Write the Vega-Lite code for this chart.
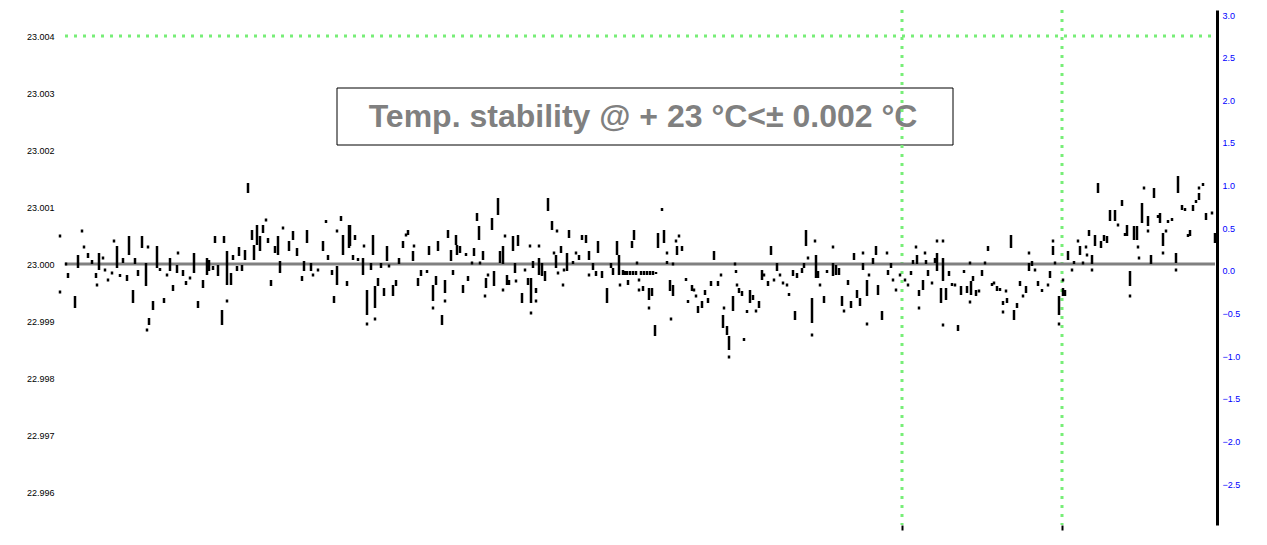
{
  "$schema": "https://vega.github.io/schema/vega-lite/v6.json",
  "autosize": {"type": "none"},
  "padding": {"left": 58, "top": 10, "right": 50, "bottom": 20},
  "width": 1159,
  "height": 515,
  "background": "white",
  "config": {"view": {"stroke": null}, "font": "Liberation Sans"},
  "datasets": {
    "pts": [
      {"t":60,"hi":29.5,"lo":26.5},{"t":60,"hi":-26.5,"lo":-29.5},{"t":66,"hi":1.5,"lo":-1.5},{"t":68,"hi":-9,"lo":-14},{"t":75,"hi":-32,"lo":-44},{"t":78,"hi":9,"lo":-4},{"t":82,"hi":34.5,"lo":31.5},{"t":84,"hi":18.5,"lo":15.5},{"t":88,"hi":11,"lo":6},{"t":92,"hi":4,"lo":0},{"t":96,"hi":-9,"lo":-14},{"t":97,"hi":-19.5,"lo":-22.5},{"t":99,"hi":11,"lo":-6},{"t":103,"hi":7.5,"lo":4.5},{"t":105,"hi":-4.5,"lo":-7.5},{"t":108,"hi":-14.5,"lo":-17.5},{"t":112,"hi":-7.5,"lo":-10.5},{"t":114,"hi":24.5,"lo":21.5},{"t":117,"hi":18,"lo":-4},{"t":120,"hi":-10,"lo":-13},{"t":123,"hi":6,"lo":1},{"t":127,"hi":-11,"lo":-17},{"t":129,"hi":28,"lo":9},{"t":133,"hi":-26,"lo":-39},{"t":135,"hi":6,"lo":0},{"t":138,"hi":-6,"lo":-12},{"t":142,"hi":28,"lo":16},{"t":146,"hi":1,"lo":-22},{"t":148,"hi":18.5,"lo":15.5},{"t":149,"hi":-54,"lo":-61},{"t":147,"hi":-64.5,"lo":-67.5},{"t":153,"hi":-37,"lo":-46},{"t":157,"hi":18,"lo":-4},{"t":160,"hi":-4,"lo":-7},{"t":164,"hi":-34,"lo":-39},{"t":167,"hi":-9.5,"lo":-12.5},{"t":170,"hi":6,"lo":-7},{"t":173,"hi":-21,"lo":-27},{"t":177,"hi":-1,"lo":-9},{"t":178,"hi":12.5,"lo":9.5},{"t":183,"hi":-6,"lo":-12},{"t":186,"hi":-17,"lo":-21},{"t":190,"hi":-12.5,"lo":-15.5},{"t":194,"hi":11,"lo":-9},{"t":198,"hi":-37,"lo":-44},{"t":203,"hi":-16,"lo":-24},{"t":207,"hi":6,"lo":-11},{"t":209,"hi":4,"lo":-7},{"t":213,"hi":-2,"lo":-6},{"t":215,"hi":28,"lo":21},{"t":218,"hi":-1,"lo":-12},{"t":222,"hi":-46,"lo":-61},{"t":224,"hi":28,"lo":21},{"t":227,"hi":13,"lo":-21},{"t":227,"hi":-35.5,"lo":-38.5},{"t":231,"hi":-9,"lo":-21},{"t":233,"hi":9,"lo":4},{"t":237,"hi":-2,"lo":-7},{"t":239,"hi":17,"lo":8},{"t":242,"hi":-1,"lo":-7},{"t":245,"hi":14,"lo":4},{"t":248,"hi":81,"lo":71},{"t":252,"hi":34,"lo":24},{"t":254,"hi":19,"lo":4},{"t":257,"hi":39,"lo":19},{"t":260,"hi":28,"lo":13},{"t":263,"hi":39,"lo":31},{"t":266,"hi":45.5,"lo":42.5},{"t":268,"hi":26,"lo":21},{"t":271,"hi":-16,"lo":-22},{"t":275,"hi":18,"lo":11},{"t":278,"hi":28,"lo":9},{"t":280,"hi":3,"lo":-9},{"t":283,"hi":37.5,"lo":34.5},{"t":289,"hi":23,"lo":13},{"t":293,"hi":33,"lo":24},{"t":297,"hi":16,"lo":8},{"t":302,"hi":-12,"lo":-17},{"t":304,"hi":3,"lo":-7},{"t":307,"hi":34,"lo":21},{"t":311,"hi":1,"lo":-7},{"t":313,"hi":-9.5,"lo":-12.5},{"t":318,"hi":-4.5,"lo":-7.5},{"t":323,"hi":23,"lo":13},{"t":326,"hi":44,"lo":41},{"t":328,"hi":9,"lo":4},{"t":332,"hi":-6,"lo":-11},{"t":334,"hi":-32,"lo":-39},{"t":337,"hi":34.5,"lo":31.5},{"t":337,"hi":-2,"lo":-21},{"t":341,"hi":48,"lo":43},{"t":343,"hi":29,"lo":9},{"t":347,"hi":-17,"lo":-22},{"t":349,"hi":39,"lo":16},
      {"t":350,"hi":39,"lo":18},{"t":353,"hi":9,"lo":4},{"t":355,"hi":29,"lo":24},{"t":358,"hi":6,"lo":3},{"t":363,"hi":6,"lo":-11},{"t":364,"hi":19.5,"lo":16.5},{"t":367,"hi":-26,"lo":-51},{"t":367,"hi":-58.5,"lo":-61.5},{"t":371,"hi":1,"lo":-6},{"t":373,"hi":29,"lo":9},{"t":375,"hi":-22,"lo":-44},{"t":375,"hi":-53.5,"lo":-56.5},{"t":378,"hi":-14,"lo":-22},{"t":381,"hi":1,"lo":-4},{"t":384,"hi":-24,"lo":-32},{"t":387,"hi":18,"lo":3},{"t":389,"hi":-0.5,"lo":-3.5},{"t":393,"hi":-21,"lo":-32},{"t":396,"hi":-16,"lo":-22},{"t":399,"hi":6,"lo":0},{"t":403,"hi":23,"lo":16},{"t":406,"hi":30.5,"lo":27.5},{"t":408,"hi":34,"lo":29},{"t":413,"hi":13,"lo":3},{"t":414,"hi":19.5,"lo":16.5},{"t":418,"hi":-14,"lo":-22},{"t":421,"hi":-6,"lo":-12},{"t":427,"hi":-6,"lo":-9},{"t":429,"hi":18,"lo":9},{"t":433,"hi":-21,"lo":-37},{"t":433,"hi":-42.5,"lo":-45.5},{"t":436,"hi":-12,"lo":-21},{"t":438,"hi":23,"lo":13},{"t":442,"hi":-51,"lo":-61},{"t":445,"hi":-16,"lo":-29},{"t":445,"hi":-35.5,"lo":-38.5},{"t":448,"hi":34,"lo":26},{"t":451,"hi":14,"lo":3},{"t":453,"hi":-6,"lo":-11},{"t":456,"hi":29,"lo":19},{"t":457,"hi":19,"lo":9},{"t":460,"hi":18,"lo":11},{"t":463,"hi":-21,"lo":-29},{"t":466,"hi":11,"lo":8},{"t":468,"hi":-12,"lo":-17},{"t":472,"hi":2.5,"lo":-0.5},{"t":474,"hi":16,"lo":8},{"t":477,"hi":51,"lo":43},{"t":479,"hi":38,"lo":24},{"t":480,"hi":2.5,"lo":-0.5},{"t":483,"hi":13,"lo":4},{"t":486,"hi":-14,"lo":-24},{"t":485,"hi":-30.5,"lo":-33.5},{"t":488,"hi":-9.5,"lo":-12.5},{"t":492,"hi":46,"lo":34},{"t":494,"hi":-7,"lo":-22},{"t":498,"hi":66,"lo":49},{"t":500,"hi":13,"lo":1},{"t":503,"hi":18,"lo":0},{"t":503,"hi":-24.5,"lo":-27.5},{"t":505,"hi":29.5,"lo":26.5},{"t":507,"hi":-11,"lo":-21},{"t":509,"hi":-16,"lo":-21},{"t":513,"hi":28,"lo":13},{"t":515,"hi":1,"lo":-9},{"t":516,"hi":-15.5,"lo":-18.5},{"t":518,"hi":29,"lo":18},{"t":522,"hi":-29,"lo":-39},{"t":525,"hi":-4.5,"lo":-7.5},{"t":528,"hi":-14,"lo":-21},{"t":530,"hi":19.5,"lo":16.5},{"t":531,"hi":-14,"lo":-39},{"t":531,"hi":-47.5,"lo":-50.5},{"t":533,"hi":3,"lo":-4},{"t":536,"hi":-24,"lo":-29},{"t":536,"hi":-35.5,"lo":-38.5},{"t":539,"hi":6,"lo":-11},{"t":539,"hi":19.5,"lo":16.5},{"t":542,"hi":1,"lo":-12},{"t":545,"hi":-7,"lo":-17},{"t":548,"hi":66,"lo":53},{"t":552,"hi":43,"lo":34},{"t":554,"hi":12.5,"lo":9.5},{"t":556,"hi":9,"lo":-4},{"t":557,"hi":34.5,"lo":31.5},{"t":558,"hi":-7.5,"lo":-10.5},{"t":561,"hi":18,"lo":11},{"t":563,"hi":-19.5,"lo":-22.5},{"t":564,"hi":-4.5,"lo":-7.5},{"t":567,"hi":11,"lo":-7},{"t":569,"hi":34,"lo":26},{"t":573,"hi":3,"lo":0},{"t":576,"hi":12.5,"lo":9.5},{"t":579,"hi":9,"lo":4},{"t":582,"hi":29,"lo":24},{"t":586,"hi":29,"lo":21},{"t":589,"hi":13,"lo":4},{"t":589,"hi":-9.5,"lo":-12.5},{"t":593,"hi":1,"lo":-6},{"t":596,"hi":-7,"lo":-12},{"t":598,"hi":23,"lo":11},{"t":602,"hi":-7,"lo":-14},{"t":607,"hi":-24,"lo":-39},{"t":611,"hi":1,"lo":-4},{"t":613,"hi":-4,"lo":-11},{"t":617,"hi":23,"lo":9},{"t":619,"hi":9,"lo":-11},{"t":620,"hi":-19.5,"lo":-22.5},{"t":623,"hi":-6,"lo":-11},{"t":628,"hi":-16,"lo":-21},{"t":632,"hi":23,"lo":16},{"t":634,"hi":34,"lo":24},{"t":637,"hi":2.5,"lo":-0.5},{"t":639,"hi":-14.5,"lo":-17.5},{"t":639,"hi":-24.5,"lo":-27.5},
      {"t":625,"hi":-7,"lo":-11},{"t":627,"hi":-7,"lo":-11},{"t":630,"hi":-7,"lo":-11},{"t":633,"hi":-7,"lo":-11},{"t":636,"hi":-7,"lo":-11},{"t":641,"hi":-7,"lo":-11},{"t":644,"hi":-7,"lo":-11},{"t":647,"hi":-7,"lo":-11},{"t":650,"hi":-7,"lo":-11},{"t":653,"hi":-7,"lo":-11},{"t":656,"hi":-8,"lo":-10},
      {"t":643,"hi":-22,"lo":-27},{"t":649,"hi":-24,"lo":-36},{"t":652,"hi":-24,"lo":-32},{"t":649,"hi":-42.5,"lo":-45.5},{"t":655,"hi":-61,"lo":-72},{"t":658,"hi":31,"lo":16},{"t":662,"hi":56,"lo":53},{"t":664,"hi":34,"lo":21},{"t":667,"hi":12.5,"lo":9.5},{"t":667,"hi":3,"lo":0},{"t":670,"hi":-16,"lo":-27},{"t":671,"hi":-53.5,"lo":-56.5},{"t":673,"hi":-21,"lo":-32},{"t":673,"hi":1.5,"lo":-1.5},{"t":676,"hi":24.5,"lo":21.5},{"t":677,"hi":18,"lo":9},{"t":679,"hi":29.5,"lo":26.5},{"t":682,"hi":18,"lo":13},{"t":686,"hi":-14,"lo":-17},{"t":688,"hi":-36,"lo":-39},{"t":692,"hi":-21,"lo":-27},{"t":694,"hi":-24.5,"lo":-27.5},{"t":696,"hi":-30.5,"lo":-33.5},{"t":698,"hi":-42,"lo":-49},{"t":702,"hi":-37,"lo":-44},{"t":705,"hi":-26,"lo":-31},{"t":708,"hi":-34,"lo":-39},{"t":711,"hi":-17,"lo":-22},{"t":714,"hi":13,"lo":4},{"t":718,"hi":-17,"lo":-22},{"t":721,"hi":-9.5,"lo":-12.5},{"t":723,"hi":-51,"lo":-64},{"t":724,"hi":-42.5,"lo":-45.5},{"t":727,"hi":-62,"lo":-71},{"t":729,"hi":-72,"lo":-86},{"t":729,"hi":-91.5,"lo":-94.5},{"t":733,"hi":-32,"lo":-47},{"t":735,"hi":1.5,"lo":-1.5},{"t":736,"hi":-6,"lo":-9},{"t":737,"hi":-19.5,"lo":-22.5},{"t":739,"hi":-24,"lo":-29},{"t":742,"hi":-27,"lo":-32},{"t":744,"hi":-74,"lo":-77},{"t":747,"hi":-46,"lo":-49},{"t":750,"hi":-26,"lo":-39},{"t":753,"hi":-31,"lo":-36},{"t":756,"hi":-45.5,"lo":-48.5},{"t":759,"hi":-37,"lo":-44},{"t":762,"hi":-6,"lo":-16},{"t":764,"hi":-9.5,"lo":-12.5},{"t":768,"hi":-17,"lo":-22},{"t":771,"hi":18,"lo":9},{"t":774,"hi":-14.5,"lo":-17.5},{"t":777,"hi":1,"lo":-7},{"t":780,"hi":-9.5,"lo":-12.5},{"t":783,"hi":-17.5,"lo":-20.5},{"t":787,"hi":-19.5,"lo":-22.5},{"t":789,"hi":-29,"lo":-32},{"t":793,"hi":-6,"lo":-12},{"t":795,"hi":-47,"lo":-56},{"t":797,"hi":-9,"lo":-14},{"t":802,"hi":-4,"lo":-9},{"t":804,"hi":1,"lo":-4},{"t":806,"hi":34,"lo":18},{"t":808,"hi":7.5,"lo":4.5},{"t":812,"hi":-34,"lo":-59},{"t":812,"hi":-69.5,"lo":-72.5},{"t":815,"hi":24.5,"lo":21.5},{"t":816,"hi":9,"lo":-14},{"t":818,"hi":-7,"lo":-14},{"t":820,"hi":-19.5,"lo":-22.5},{"t":824,"hi":-32,"lo":-39},{"t":827,"hi":-6,"lo":-9},{"t":833,"hi":18.5,"lo":15.5},{"t":833,"hi":1,"lo":-12},{"t":836,"hi":-1,"lo":-11},{"t":839,"hi":-4,"lo":-11},{"t":842,"hi":-32,"lo":-42},{"t":844,"hi":-45.5,"lo":-48.5},{"t":848,"hi":-16,"lo":-21},{"t":851,"hi":-37,"lo":-44},{"t":854,"hi":11,"lo":4},{"t":857,"hi":-26,"lo":-34},{"t":860,"hi":-34,"lo":-42},{"t":863,"hi":12.5,"lo":9.5},{"t":863,"hi":1,"lo":-6},{"t":867,"hi":-16,"lo":-32},{"t":867,"hi":-58.5,"lo":-61.5},{"t":869,"hi":-9.5,"lo":-12.5},{"t":873,"hi":6,"lo":0},{"t":876,"hi":18,"lo":9},{"t":878,"hi":-21,"lo":-31},{"t":882,"hi":-47,"lo":-56},{"t":887,"hi":12.5,"lo":9.5},{"t":888,"hi":-6,"lo":-11},{"t":891,"hi":1,"lo":-4},{"t":893,"hi":-14.5,"lo":-17.5},{"t":896,"hi":-24.5,"lo":-27.5},{"t":900,"hi":-9.5,"lo":-12.5},{"t":905,"hi":-14.5,"lo":-17.5},{"t":908,"hi":-19.5,"lo":-22.5},{"t":911,"hi":-7,"lo":-11},{"t":913,"hi":4,"lo":0},{"t":916,"hi":18.5,"lo":15.5},{"t":917,"hi":9,"lo":0},{"t":919,"hi":-26,"lo":-32},{"t":919,"hi":-42.5,"lo":-45.5},{"t":923,"hi":-16,"lo":-26},{"t":925,"hi":12.5,"lo":9.5},{"t":926,"hi":4,"lo":0},{"t":928,"hi":-6,"lo":-12},
      {"t":932,"hi":-17.5,"lo":-20.5},{"t":935,"hi":6,"lo":1},{"t":937,"hi":24.5,"lo":21.5},{"t":937,"hi":11,"lo":-7},{"t":941,"hi":-24,"lo":-39},{"t":943,"hi":24.5,"lo":21.5},{"t":943,"hi":6,"lo":-17},{"t":946,"hi":-24,"lo":-36},{"t":943,"hi":-59.5,"lo":-62.5},{"t":949,"hi":-7,"lo":-12},{"t":952,"hi":-19,"lo":-22},{"t":955,"hi":-19.5,"lo":-22.5},{"t":958,"hi":-61,"lo":-67},{"t":961,"hi":-22,"lo":-31},{"t":964,"hi":-6,"lo":-9},{"t":967,"hi":-22,"lo":-29},{"t":970,"hi":2.5,"lo":-0.5},{"t":971,"hi":-17,"lo":-31},{"t":970,"hi":-36.5,"lo":-39.5},{"t":973,"hi":-12,"lo":-17},{"t":976,"hi":-26,"lo":-32},{"t":979,"hi":-25.5,"lo":-28.5},{"t":982,"hi":-6,"lo":-12},{"t":985,"hi":2.5,"lo":-0.5},{"t":988,"hi":18,"lo":13},{"t":992,"hi":-19,"lo":-22},{"t":994,"hi":-17.5,"lo":-20.5},{"t":997,"hi":-22,"lo":-27},{"t":1000,"hi":-24,"lo":-27},{"t":1003,"hi":-37,"lo":-41},{"t":1003,"hi":-46.5,"lo":-49.5},{"t":1006,"hi":-25.5,"lo":-28.5},{"t":1007,"hi":-34,"lo":-39},{"t":1011,"hi":29,"lo":16},{"t":1014,"hi":-46,"lo":-56},{"t":1017,"hi":-39,"lo":-44},{"t":1020,"hi":-17,"lo":-22},{"t":1023,"hi":-30.5,"lo":-33.5},{"t":1026,"hi":-22,"lo":-29},{"t":1029,"hi":12.5,"lo":9.5},{"t":1029,"hi":1,"lo":-7},{"t":1032,"hi":3,"lo":-2},{"t":1035,"hi":-4.5,"lo":-7.5},{"t":1038,"hi":-17,"lo":-22},{"t":1042,"hi":-25,"lo":-28},{"t":1048,"hi":-19.5,"lo":-22.5},{"t":1050,"hi":-7,"lo":-14},{"t":1053,"hi":24.5,"lo":21.5},{"t":1053,"hi":18,"lo":9},{"t":1055,"hi":2.5,"lo":-0.5},{"t":1059,"hi":-32,"lo":-51},{"t":1059,"hi":-58.5,"lo":-61.5},{"t":1063,"hi":-14.5,"lo":-17.5},{"t":1063,"hi":-24,"lo":-32},{"t":1065,"hi":-26,"lo":-32},{"t":1068,"hi":13,"lo":4},{"t":1072,"hi":-4.5,"lo":-7.5},{"t":1074,"hi":3,"lo":0},{"t":1078,"hi":24.5,"lo":21.5},{"t":1080,"hi":18,"lo":9},{"t":1083,"hi":2.5,"lo":-0.5},{"t":1086,"hi":18.5,"lo":15.5},{"t":1087,"hi":10.5,"lo":7.5},{"t":1089,"hi":34,"lo":28},{"t":1092,"hi":9,"lo":0},{"t":1092,"hi":-4.5,"lo":-7.5},{"t":1095,"hi":29,"lo":18},{"t":1098,"hi":81,"lo":71},{"t":1101,"hi":23,"lo":16},{"t":1104,"hi":29,"lo":23},{"t":1107,"hi":28,"lo":21},{"t":1110,"hi":54,"lo":43},{"t":1115,"hi":54,"lo":43},{"t":1118,"hi":40.5,"lo":37.5},{"t":1122,"hi":64,"lo":58},{"t":1125,"hi":31,"lo":28},{"t":1127,"hi":39,"lo":28},{"t":1130,"hi":-7,"lo":-22},{"t":1130,"hi":-30.5,"lo":-33.5},{"t":1134,"hi":38,"lo":24},{"t":1137,"hi":38,"lo":24},{"t":1138,"hi":18.5,"lo":15.5},{"t":1139,"hi":7.5,"lo":4.5},{"t":1142,"hi":61,"lo":41},{"t":1144,"hi":77.5,"lo":74.5},{"t":1148,"hi":48,"lo":38},{"t":1148,"hi":34.5,"lo":31.5},{"t":1151,"hi":9,"lo":0},{"t":1154,"hi":76,"lo":66},{"t":1158,"hi":49,"lo":46},{"t":1160,"hi":51,"lo":41},{"t":1163,"hi":31,"lo":18},{"t":1163,"hi":12.5,"lo":9.5},{"t":1166,"hi":34.5,"lo":31.5},{"t":1168,"hi":44,"lo":41},{"t":1172,"hi":46,"lo":43},{"t":1176,"hi":11,"lo":1},{"t":1176,"hi":-4.5,"lo":-7.5},{"t":1178,"hi":88,"lo":71},{"t":1182,"hi":59,"lo":54},{"t":1185,"hi":56,"lo":53},{"t":1188,"hi":30,"lo":27},{"t":1190,"hi":34,"lo":28},{"t":1193,"hi":59,"lo":53},{"t":1196,"hi":64,"lo":61},{"t":1199,"hi":71,"lo":64},{"t":1199,"hi":77.5,"lo":74.5},{"t":1203,"hi":81,"lo":78},{"t":1206,"hi":51,"lo":44},{"t":1212,"hi":52.5,"lo":49.5},{"t":1215,"hi":31,"lo":21}
    ]
  },
  "resolve": {"axis": {"y": "independent", "x": "independent"}},
  "layer": [
    {
      "data": {"values": [{"t": 337, "t2": 953, "top": 176, "bot": 119}]},
      "mark": {"type": "rect", "fill": "white", "stroke": "black", "strokeWidth": 1},
      "encoding": {
        "x": {"field": "t", "type": "quantitative", "scale": {"domain": [58, 1217], "nice": false, "zero": false}, "axis": null},
        "x2": {"field": "t2"},
        "y": {"field": "top", "type": "quantitative", "scale": {"domain": [-261, 254], "nice": false, "zero": false}, "axis": null},
        "y2": {"field": "bot"}
      }
    },
    {
      "data": {"values": [{"t": 643, "d": 147, "label": "Temp. stability @ + 23 °C<± 0.002 °C"}]},
      "mark": {"type": "text", "font": "Liberation Sans", "fontWeight": "bold", "fontSize": 32, "color": "#808080", "align": "center", "baseline": "middle"},
      "encoding": {
        "x": {"field": "t", "type": "quantitative", "axis": null},
        "y": {"field": "d", "type": "quantitative", "axis": null},
        "text": {"field": "label"}
      }
    },
    {
      "data": {"values": [{"t": 65, "t2": 1215, "d": 228}]},
      "mark": {"type": "rule", "color": "#77ee77", "strokeWidth": 3, "strokeDash": [3, 6]},
      "encoding": {
        "x": {"field": "t", "type": "quantitative", "axis": null},
        "x2": {"field": "t2"},
        "y": {"field": "d", "type": "quantitative", "axis": null}
      }
    },
    {
      "data": {"values": [{"t": 902}, {"t": 1062}]},
      "mark": {"type": "rule", "color": "#77ee77", "strokeWidth": 3, "strokeDash": [3, 6]},
      "encoding": {
        "x": {"field": "t", "type": "quantitative", "axis": {"values": [902, 1062], "domain": false, "labels": false, "tickColor": "black", "tickSize": 5, "tickWidth": 2, "grid": false, "title": null}}
      }
    },
    {
      "data": {"values": [{"t": 65, "t2": 1215, "d": 0}]},
      "mark": {"type": "rule", "color": "#808080", "strokeWidth": 3},
      "encoding": {
        "x": {"field": "t", "type": "quantitative", "axis": null},
        "x2": {"field": "t2"},
        "y": {"field": "d", "type": "quantitative", "axis": {"orient": "right", "title": null, "grid": false, "values": [249, 206.4, 163.7, 121.1, 78.5, 35.8, -6.8, -49.5, -92.1, -134.7, -177.4, -220], "labelExpr": "format(round((datum.value + 6.8) / 42.6) * 0.5, '.1f')", "domain": true, "domainColor": "black", "domainWidth": 3, "ticks": false, "labelColor": "#0000ff", "labelFontSize": 9, "labelPadding": 5}}
      }
    },
    {
      "data": {"name": "pts"},
      "mark": {"type": "rule", "color": "black", "strokeWidth": 2.5},
      "encoding": {
        "x": {"field": "t", "type": "quantitative", "axis": null},
        "y": {"field": "hi", "type": "quantitative", "axis": {"orient": "left", "title": null, "grid": false, "domain": false, "ticks": false, "values": [228, 171, 114, 57, 0, -57, -114, -171, -228], "labelExpr": "format(23 + datum.value / 57000, '.3f')", "labelColor": "black", "labelFontSize": 9, "labelPadding": 4}},
        "y2": {"field": "lo"}
      }
    }
  ]
}
